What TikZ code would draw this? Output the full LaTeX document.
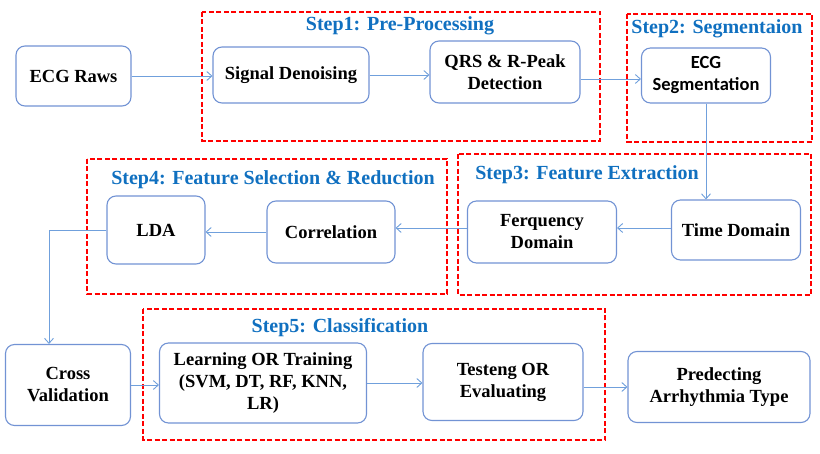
\documentclass[tikz,border=0pt]{standalone}
\usepackage{fontspec}
\setmainfont{Liberation Serif}
\newfontfamily\calibri{Carlito}
\usetikzlibrary{arrows.meta}
\definecolor{boxblue}{RGB}{114,147,212}
\definecolor{linkblue}{RGB}{112,160,220}
\definecolor{titleblue}{RGB}{16,112,192}
\begin{document}
\begin{tikzpicture}[x=1pt,y=-1pt,
  box/.style={draw=boxblue,line width=1.1pt,rounded corners=9pt,fill=white,align=center,
    font=\fontsize{18.5}{22}\selectfont\bfseries,inner sep=2pt},
  stage/.style={draw=red,line width=1.6pt,dash pattern=on 5pt off 2.5pt},
  steptitle/.style={text=titleblue,font=\fontsize{20}{24}\selectfont\bfseries},
  link/.style={draw=linkblue,line width=0.9pt,-{Straight Barb[length=5pt,width=9pt]}}]
\useasboundingbox (0,0) rectangle (820,454);

% dashed stage frames
\draw[stage] (202,12) rectangle (600,141);
\draw[stage] (627,14) rectangle (812,142);
\draw[stage] (458,154) rectangle (811,295);
\draw[stage] (87,159) rectangle (447,294);
\draw[stage] (143,309) rectangle (605,440);

\node[steptitle] (t1) at (400,26) {Step1: Pre-Processing};
\node[steptitle] (t2) at (717,29) {Step2: Segmentaion};
\node[steptitle] (t3) at (587,175) {Step3: Feature Extraction};
\node[steptitle] (t4) at (273,180) {Step4: Feature Selection \& Reduction};
\node[steptitle] (t5) at (340,328) {Step5: Classification};

% first row
\node[box,minimum width=115pt,minimum height=60pt] (raw) at (73.5,76) {ECG Raws};
\node[box,minimum width=156pt,minimum height=56pt] (den) at (291,75) {Signal Denoising};
\node[box,minimum width=150pt,minimum height=62pt] (qrs) at (505,72) {QRS \& R-Peak\\Detection};
\node[box,minimum width=129pt,minimum height=55pt,font=\fontsize{18.5}{22}\calibri\bfseries] (seg) at (706,75.5) {ECG\\Segmentation};

% second row
\node[box,minimum width=129pt,minimum height=60pt] (time) at (736,230) {Time Domain};
\node[box,minimum width=149pt,minimum height=62pt] (freq) at (542,232) {Ferquency\\Domain};
\node[box,minimum width=128pt,minimum height=62pt] (corr) at (331,232) {Correlation};
\node[box,minimum width=98pt,minimum height=68pt] (lda) at (156,230) {LDA};

% third row
\node[box,minimum width=125pt,minimum height=81pt] (cv) at (68,385) {Cross\\Validation};
\node[box,minimum width=207pt,minimum height=80pt] (learn) at (263,383) {Learning OR Training\\(SVM, DT, RF, KNN,\\LR)};
\node[box,minimum width=160pt,minimum height=77pt] (test) at (503,382) {Testeng OR\\Evaluating};
\node[box,minimum width=182pt,minimum height=71pt] (pred) at (719,387) {Predecting\\Arrhythmia Type};

\coordinate (bend) at (49,230);

\draw[link] (raw.east) -- (raw.east -| den.west);
\draw[link] (den.east) -- (den.east -| qrs.west);
\draw[link] ([yshift=-7pt]qrs.east) -- ([yshift=-7pt]qrs.east -| seg.west);
\draw[link] (seg.south) -- (seg.south |- time.north);
\draw[link] ([yshift=2pt]time.west) -- ([yshift=2pt]time.west -| freq.east);
\draw[link] ([yshift=4pt]freq.west) -- ([yshift=4pt]freq.west -| corr.east);
\draw[link] (corr.west) -- (corr.west -| lda.east);
\draw[link] (lda.west) -- (bend) -- (bend |- cv.north);
\draw[link] (cv.east) -- (cv.east -| learn.west);
\draw[link] (learn.east) -- (learn.east -| test.west);
\draw[link] ([yshift=-5pt]test.east) -- ([yshift=-5pt]test.east -| pred.west);
\end{tikzpicture}
\end{document}
